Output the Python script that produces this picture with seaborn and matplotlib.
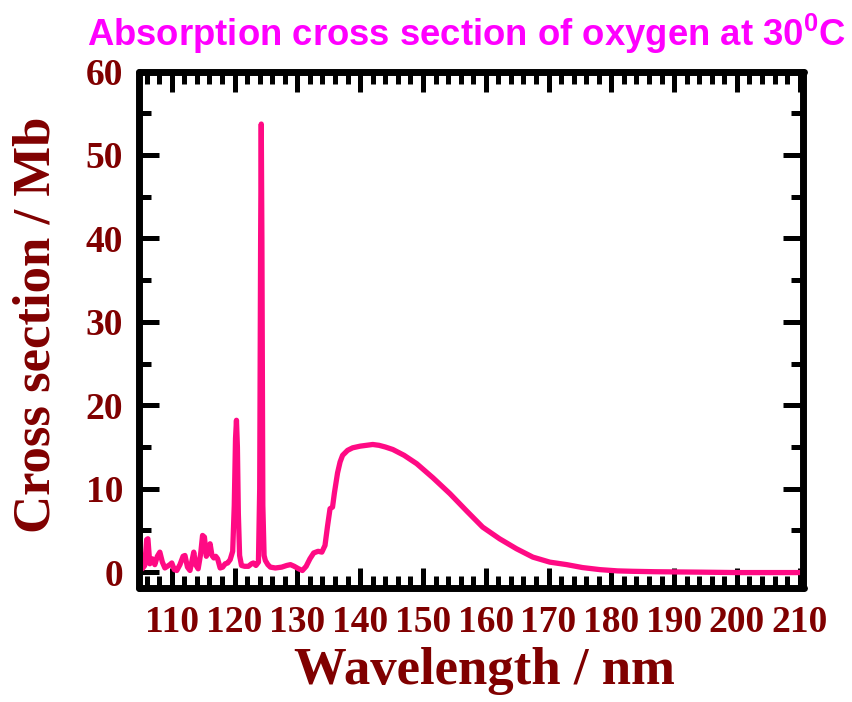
import matplotlib
matplotlib.use("Agg")
import matplotlib.pyplot as plt
import seaborn as sns
import numpy as np
import pandas as pd
from matplotlib.ticker import MultipleLocator

# ---- data ----
wavelength_nm = [
    104.8, 105.0, 105.3, 105.7, 106.0, 106.2, 106.5, 106.9, 107.3, 107.7,
    108.1, 108.5, 108.9, 109.3, 109.7, 110.0, 110.4, 110.8, 111.3, 111.8,
    112.1, 112.5, 112.9, 113.2, 113.5, 113.8, 114.2, 114.6, 114.9, 115.2,
    115.5, 115.8, 116.1, 116.4, 116.7, 117.0, 117.3, 117.7, 118.1, 118.5,
    118.9, 119.3, 119.7, 119.95, 120.15, 120.3, 120.45, 120.6, 120.8, 121.1,
    121.6, 122.2, 122.7, 123.0, 123.4, 123.8, 124.0, 124.15, 124.25, 124.35,
    124.5, 124.7, 124.9, 125.3, 125.7, 126.5, 127.5, 128.3, 128.9, 129.5,
    130.2, 130.8, 131.4, 132.0, 132.6, 133.3, 133.9, 134.4, 134.8, 135.2,
    135.6, 135.9, 136.4, 136.8, 137.2, 138.0, 138.8, 140.0, 141.0, 142.0,
    143.0, 144.0, 145.2, 147.0, 149.0, 151.6, 154.3, 157.0, 159.5, 162.2,
    164.9, 167.5, 170.2, 172.9, 175.4, 178.2, 181.0, 183.4, 187.0, 194.0,
    200.0, 205.0, 210.6,
]
cross_section_mb = [
    1.2, 2.3, 0.4, 0.8, 3.9, 4.0, 1.0, 1.6, 0.9, 1.9,
    2.4, 1.2, 0.5, 0.7, 0.9, 1.1, 0.3, 0.2, 0.9, 1.9,
    2.0, 0.6, 0.2, 1.3, 2.4, 0.9, 0.4, 2.2, 4.4, 4.2,
    1.9, 2.6, 3.4, 2.0, 1.7, 1.9, 1.6, 0.5, 0.6, 1.0,
    1.1, 1.5, 2.5, 8.0, 16.0, 18.2, 15.0, 7.0, 2.0, 0.8,
    0.7, 0.7, 1.0, 1.1, 0.8, 1.2, 10.0, 40.0, 53.7, 40.0,
    8.0, 2.0, 1.4, 0.9, 0.6, 0.5, 0.6, 0.8, 0.9, 0.7,
    0.4, 0.2, 0.7, 1.6, 2.3, 2.5, 2.4, 3.2, 5.5, 7.6,
    7.8, 9.5, 11.9, 13.2, 14.0, 14.6, 14.9, 15.1, 15.2, 15.3,
    15.2, 15.0, 14.7, 14.0, 13.0, 11.3, 9.4, 7.3, 5.4, 4.0,
    2.8, 1.8, 1.2, 0.9, 0.55, 0.3, 0.15, 0.1, 0.05, 0.0,
    -0.05, -0.05, -0.05,
]
x_ticks = [110, 120, 130, 140, 150, 160, 170, 180, 190, 200, 210]
y_ticks = [0, 10, 20, 30, 40, 50, 60]

title_text = r"Absorption cross section of oxygen at 30$^{0}$C"
x_label = "Wavelength / nm"
y_label = "Cross section / Mb"

df = pd.DataFrame({"wavelength": wavelength_nm, "cross": cross_section_mb})

# ---- style ----
sns.set_style("ticks")
plt.rcParams["font.family"] = ["Liberation Serif", "DejaVu Serif"]
plt.rcParams["mathtext.fontset"] = "custom"
plt.rcParams["mathtext.rm"] = "Liberation Sans:bold"
plt.rcParams["mathtext.it"] = "Liberation Sans:bold"
plt.rcParams["mathtext.bf"] = "Liberation Sans:bold"

maroon = "#800000"
pink = "#FF0A84"
magenta = "#FF00FF"

fig = plt.figure(figsize=(8.53, 7.02), dpi=100)
ax = fig.add_axes([138.5 / 853, 1 - 588 / 702, (803.5 - 138.5) / 853, (588 - 71.5) / 702])

sns.lineplot(data=df, x="wavelength", y="cross", ax=ax, color=pink,
             linewidth=3.8, sort=False, estimator=None)

ax.set_xlim(104.7, 210.6)
ax.set_ylim(-1.9, 60)
ax.set_xticks(x_ticks)
ax.set_yticks(y_ticks)
ax.xaxis.set_minor_locator(MultipleLocator(2))
ax.yaxis.set_minor_locator(MultipleLocator(5))

for s in ax.spines.values():
    s.set_linewidth(5.0)
    s.set_color("black")
    s.set_capstyle("round")
    s.set_joinstyle("round")

ax.tick_params(which="both", direction="in", top=True, right=True,
               color="black", width=3.6)
ax.tick_params(which="major", length=14.5, pad=12)
ax.tick_params(which="minor", length=8.5)
ax.tick_params(axis="y", which="major", pad=11)

for lab in ax.get_xticklabels() + ax.get_yticklabels():
    lab.set_fontfamily(["Liberation Serif"])
    lab.set_fontweight("bold")
    lab.set_fontsize(27)
    lab.set_color(maroon)

ax.set_xlabel(x_label, fontsize=38, fontweight="bold", color=maroon,
              fontfamily=["Liberation Serif"])
ax.set_ylabel(y_label, fontsize=38, fontweight="bold", color=maroon,
              fontfamily=["Liberation Serif"])
ax.xaxis.set_label_coords(0.52, -0.115)
ax.yaxis.set_label_coords(-0.118, 0.51)

fig.text(466 / 853, 1 - 46 / 702, title_text, ha="center", va="baseline",
         fontsize=26.3, fontweight="bold", color=magenta,
         fontfamily=["Liberation Sans"])

fig.savefig("out.png", dpi=100)
